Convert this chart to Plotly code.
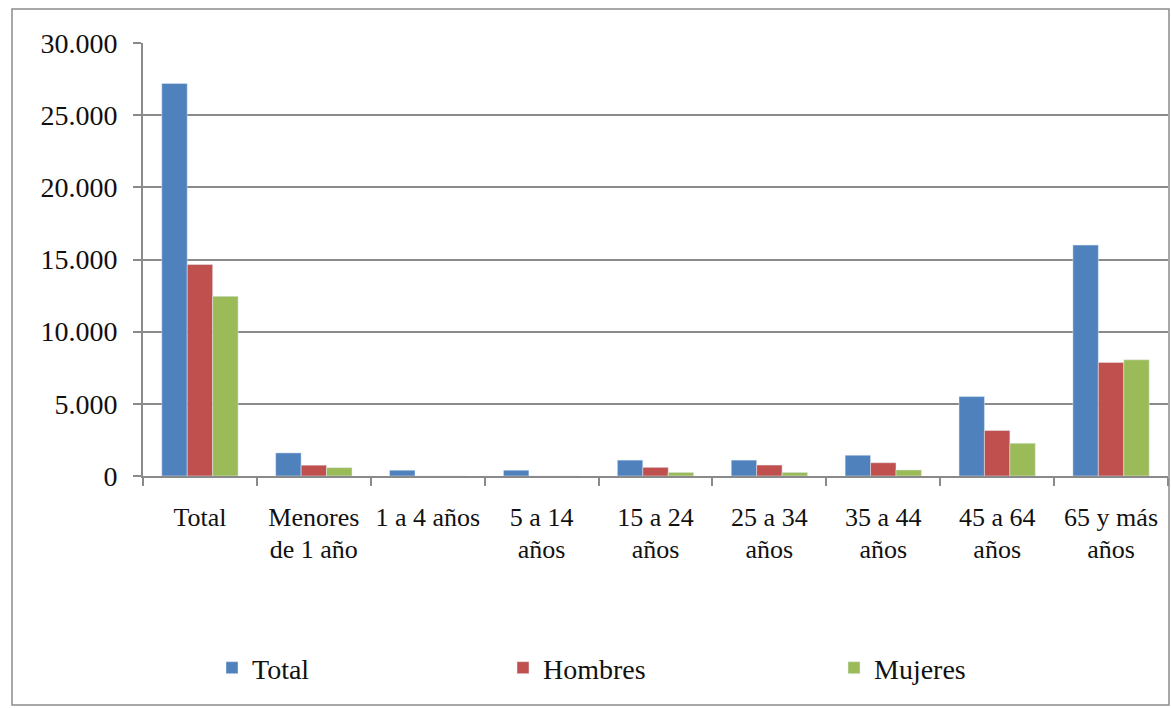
import plotly.graph_objects as go

categories = ["Total", "Menores de 1 año", "1 a 4 años", "5 a 14 años", "15 a 24 años",
              "25 a 34 años", "35 a 44 años", "45 a 64 años", "65 y más años"]
label_line1 = ["Total", "Menores", "1 a 4 años", "5 a 14", "15 a 24",
               "25 a 34", "35 a 44", "45 a 64", "65 y más"]
label_line2 = ["", "de 1 año", "", "años", "años", "años", "años", "años", "años"]
total = [27200, 1600, 400, 400, 1100, 1100, 1440, 5500, 16000]
hombres = [14650, 750, 0, 0, 600, 760, 920, 3150, 7870]
mujeres = [12450, 580, 0, 0, 250, 250, 420, 2270, 8050]
y_ticks = [0, 5000, 10000, 15000, 20000, 25000, 30000]

W, H = 1171, 708
L, R, T, B = 143, 3, 43, 232
pw = W - L - R
ph = H - T - B

def px_x(x):
    return (x - L) / pw

def px_y(y):
    return (H - B - y) / ph

FONT = "'Liberation Serif', 'Times New Roman', Times, serif"
FS = 28
FSX = 26
TXT = "#111"
GRID = "#8a8a8a"

fig = go.Figure()
fig.add_trace(go.Bar(x=categories, y=total, name="Total", marker_color="#4F81BD", legend="legend"))
fig.add_trace(go.Bar(x=categories, y=hombres, name="Hombres", marker_color="#C0504D", legend="legend2"))
fig.add_trace(go.Bar(x=categories, y=mujeres, name="Mujeres", marker_color="#9BBB59", legend="legend3"))
# invisible helper trace so the second label row (xaxis2) is rendered
fig.add_trace(go.Scatter(x=categories, y=[0] * len(categories), xaxis="x2", yaxis="y",
                         mode="markers", marker=dict(opacity=0), showlegend=False, hoverinfo="skip"))

leg_common = dict(orientation="h", yanchor="middle", xanchor="left",
                  font=dict(family=FONT, size=FS, color=TXT), bgcolor="rgba(0,0,0,0)")
cat_axis = dict(type="category", categoryorder="array", categoryarray=categories,
                range=[-0.5, len(categories) - 0.5], tickvals=categories, tickangle=0,
                tickfont=dict(family=FONT, size=FSX, color=TXT), showgrid=False, zeroline=False)
fig.update_layout(
    width=W, height=H,
    margin=dict(l=L, r=R, t=T, b=B),
    paper_bgcolor="white", plot_bgcolor="white",
    separators=",.",
    showlegend=True,
    barmode="group", bargap=0.33, bargroupgap=0,
    font=dict(family=FONT, size=FS, color=TXT),
    legend=dict(x=px_x(212), y=px_y(668), **leg_common),
    legend2=dict(x=px_x(503), y=px_y(668), **leg_common),
    legend3=dict(x=px_x(834), y=px_y(668), **leg_common),
    xaxis=dict(ticktext=label_line1, showline=True, linecolor=GRID, linewidth=2,
               ticks="outside", tickson="boundaries", ticklen=8, tickwidth=2, tickcolor=GRID,
               ticklabelstandoff=17, **cat_axis),
    xaxis2=dict(ticktext=label_line2, overlaying="x", anchor="y", side="bottom", showline=False,
                ticks="", ticklabelstandoff=55, **cat_axis),
    yaxis=dict(range=[0, 30000], tickvals=y_ticks, tickformat=",d", showline=True, linecolor=GRID,
               linewidth=2, ticks="outside", ticklen=8, tickwidth=2, tickcolor=GRID,
               showgrid=True, gridcolor=GRID, gridwidth=2, zeroline=False,
               ticklabelstandoff=10,
               tickfont=dict(family=FONT, size=FS, color=TXT)),
    shapes=[dict(type="rect", xref="paper", yref="paper",
                 x0=px_x(12), x1=px_x(1169), y0=px_y(705), y1=px_y(9),
                 line=dict(color="#8c8c8c", width=1.5), fillcolor="rgba(0,0,0,0)", layer="below")],
)
fig.write_html("out.html", config={"displayModeBar": False},
               post_script="document.body.style.margin='0';document.body.style.overflow='hidden';")
